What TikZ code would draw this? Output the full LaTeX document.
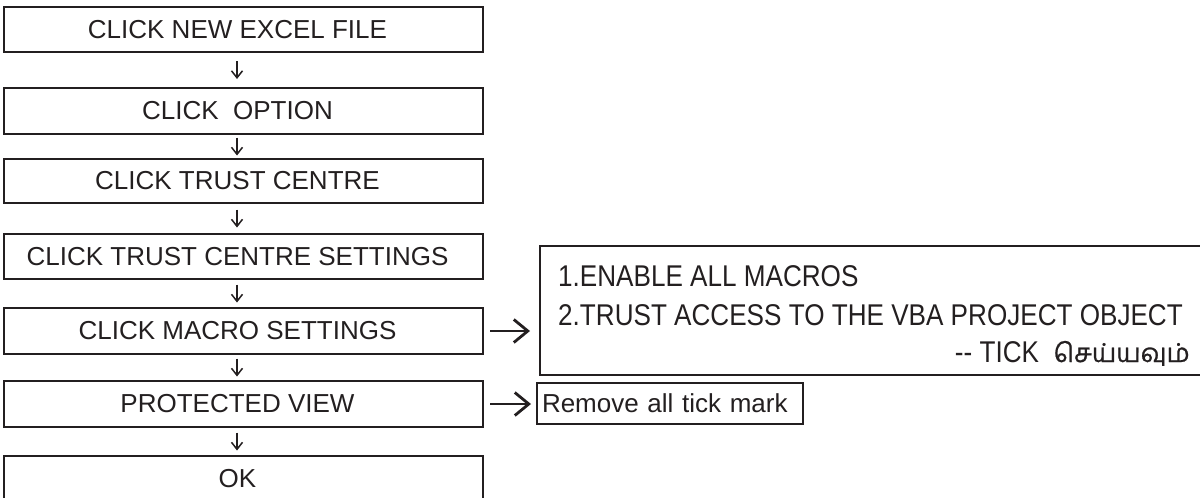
\documentclass[tikz,border=0pt]{standalone}
\usepackage{fontspec}
\setmainfont{Liberation Sans}
\newfontfamily\narrowfont{Liberation Sans}[FakeStretch=0.87]
\newfontfamily\tamilfont[Script=Tamil, FakeBold=0.8]{Hind Madurai}
\usetikzlibrary{arrows.meta}
\definecolor{ink}{HTML}{231F20}

\begin{document}
\begin{tikzpicture}[x=1pt, y=1pt, ink,
    stepbox/.style = {draw, line width=2pt, minimum width=479pt, minimum height=45pt, inner sep=0pt, font=\fontsize{26}{30}\selectfont, execute at end node=\hspace*{12pt}},
    notebox/.style = {draw, line width=2pt, inner sep=0pt},
    notetext/.style = {inner sep=0pt, font=\narrowfont\fontsize{30}{38.5}\selectfont},
    flow/.style = {-{Straight Barb[length=7pt,width=11pt]}, line width=1.5pt, shorten <=#1, shorten >=#1},
    jump/.style = {-{Straight Barb[length=14pt,width=23pt]}, line width=2.8pt}]
    \useasboundingbox (0,0) rectangle (1200,-498);

    % main column
    \node[stepbox] (new) at (243.5,-29.5) {CLICK NEW EXCEL FILE};
    \node[stepbox, minimum height=46pt] (option) at (243.5,-111) {CLICK\ \ OPTION};
    \node[stepbox, minimum height=44pt] (trust) at (243.5,-181) {CLICK TRUST CENTRE};
    \node[stepbox] (settings) at (243.5,-256.5) {CLICK TRUST CENTRE SETTINGS};
    \node[stepbox, minimum height=46pt] (macro) at (243.5,-331) {CLICK MACRO SETTINGS};
    \node[stepbox, minimum height=46pt] (protect) at (243.5,-404) {PROTECTED VIEW};
    \node[stepbox, minimum height=46pt] (ok) at (243.5,-479) {OK};

    % side notes
    \node[notebox, minimum width=665pt, minimum height=129pt] (macbox) at (872.5,-310.5) {};
    \node[notetext, anchor=base west, align=left] (macsteps) at (558,-325)
        {1.ENABLE ALL MACROS\\2.TRUST ACCESS TO THE VBA PROJECT OBJECT};
    \node[notetext, anchor=base east] (tick) at (1190,-362)
        {-{}- TICK\ \ {\tamilfont\fontsize{26}{30}\selectfont செய்யவும்}};
    \node[notebox, minimum width=266pt, minimum height=41pt, text width=256pt, inner xsep=5pt, align=left, font=\fontsize{26}{30}\selectfont] (remove) at (670,-403.5) {Remove all tick mark};

    \draw[flow=8pt] ([xshift=-6.5pt]new.south) -- ([xshift=-6.5pt]option.north);
    \draw[flow=2.5pt] ([xshift=-6.5pt]option.south) -- ([xshift=-6.5pt]trust.north);
    \draw[flow=5.5pt] ([xshift=-6.5pt]trust.south) -- ([xshift=-6.5pt]settings.north);
    \draw[flow=4.5pt] ([xshift=-6.5pt]settings.south) -- ([xshift=-6.5pt]macro.north);
    \draw[flow=3.5pt] ([xshift=-6.5pt]macro.south) -- ([xshift=-6.5pt]protect.north);
    \draw[flow=4.5pt] ([xshift=-6.5pt]protect.south) -- ([xshift=-6.5pt]ok.north);

    \draw[jump, shorten <=6pt, shorten >=9pt] (macro.east) -- (macro.east -| macbox.west);
    \draw[jump, shorten <=6pt, shorten >=5pt] (protect.east) -- (protect.east -| remove.west);
\end{tikzpicture}
\end{document}
